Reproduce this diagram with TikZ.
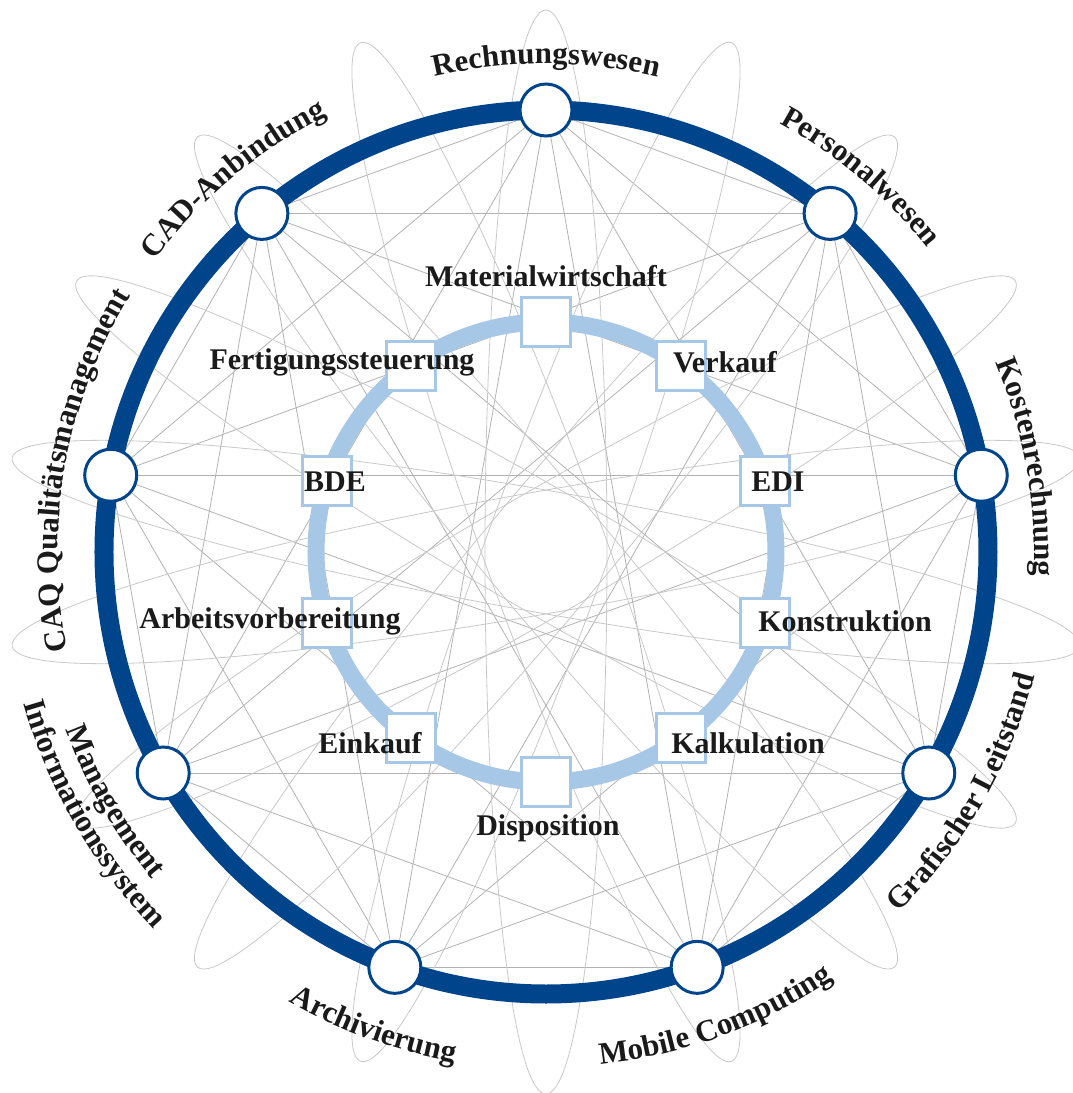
\documentclass[tikz,border=0pt]{standalone}
\usepackage{fontspec}
\setmainfont{Liberation Serif}
\usetikzlibrary{decorations.text}

\definecolor{ringblue}{RGB}{0,69,139}
\definecolor{lightring}{RGB}{167,199,231}
\definecolor{linegray}{RGB}{178,178,178}
\definecolor{loopgray}{RGB}{200,200,200}
\definecolor{txt}{RGB}{26,26,26}

\pgfdeclarelayer{lines}
\pgfdeclarelayer{rings}
\pgfsetlayers{lines,rings,main}

\newcommand\lblfont{\fontsize{31}{36}\selectfont\bfseries}

% label on an arc, read clockwise (tops outside)
\newcommand\cwlabel[3]{%
  \path[decorate, decoration={text along path, text align=center, text color=txt, text={|\lblfont|#3}}]
    ({#1+70}:#2) arc[start angle={#1+70}, end angle={#1-70}, radius=#2 pt];}
% label on an arc, read counterclockwise (tops inside)
\newcommand\ccwlabel[3]{%
  \path[decorate, decoration={text along path, text align=center, text color=txt, text={|\lblfont|#3}}]
    ({#1-70}:#2) arc[start angle={#1-70}, end angle={#1+70}, radius=#2 pt];}

\tikzset{
  outernode/.style={circle, draw=ringblue, fill=white, line width=3pt, minimum size=52pt, inner sep=0pt},
  innerbox/.style={rectangle, draw=lightring, fill=white, line width=3pt, minimum size=49pt, inner sep=0pt},
  modlabel/.style={font=\fontsize{30}{34}\selectfont\bfseries, text=txt, inner sep=0pt},
  chord/.style={draw=linegray, line width=0.8pt},
  loopline/.style={draw=loopgray, line width=0.8pt}
}

\begin{document}
\begin{tikzpicture}[x=1pt, y=1pt]
    \useasboundingbox (-546,-541) rectangle (527,552);

    % outer modules
    \foreach \a/\n in {90/1, 50/2, 10/3, -30/4, -70/5, -110/6, -150/7, 170/8, 130/9}
        \node[outernode] (o\n) at (\a:442) {};

    % inner modules
    \foreach \a/\n in {90/1, 54/2, 18/3, -18/4, -54/5, -90/6, -126/7, -162/8, 162/9, 126/10}
        \node[innerbox] (m\n) at (\a:230) {};

    % every outer module with every other one
    \begin{pgfonlayer}{lines}
    \foreach \i in {1,...,8}{
        \pgfmathtruncatemacro\k{\i+1}
        \foreach \j in {\k,...,9}
            \draw[chord] (o\i.center) -- (o\j.center);
    }
    % the loops
    \foreach \a in {10,30,...,170}
        \draw[loopline, rotate=\a] (0,0) ellipse[x radius=542pt, y radius=61pt];
    \end{pgfonlayer}

    % rings
    \begin{pgfonlayer}{rings}
    \draw[ringblue, line width=19pt] (0,0) circle[radius=442pt];
    \draw[lightring, line width=17pt] (0,0) circle[radius=230pt];
    \end{pgfonlayer}

    % inner labels
    \node[modlabel] (l1) at (0,276) {Materialwirtschaft};
    \node[modlabel] (l2) at (179,190) {Verkauf};
    \node[modlabel] (l3) at (232,70) {EDI};
    \node[modlabel] (l4) at (299,-69) {Konstruktion};
    \node[modlabel] (l5) at (202,-191) {Kalkulation};
    \node[modlabel] (l6) at (2,-276) {Disposition};
    \node[modlabel] (l7) at (-176,-191) {Einkauf};
    \node[modlabel] (l8) at (-276,-69) {Arbeitsvorbereitung};
    \node[modlabel] (l9) at (-211,70) {BDE};
    \node[modlabel] (l10) at (-204,190) {Fertigungssteuerung};

    % outer labels
    \cwlabel{90}{488}{Rechnungswesen}
    \cwlabel{50}{488}{Personalwesen}
    \cwlabel{10}{488}{Kostenrechnung}
    \cwlabel{170}{488}{CAQ Qualitätsmanagement}
    \cwlabel{130}{488}{CAD-Anbindung}
    \ccwlabel{-30}{504}{Grafischer Leitstand}
    \ccwlabel{-70}{515}{Mobile Computing}
    \ccwlabel{-110}{518}{Archivierung}
    \ccwlabel{-150}{512}{Management}
    \ccwlabel{-150}{544}{Informationssystem}

\end{tikzpicture}
\end{document}
